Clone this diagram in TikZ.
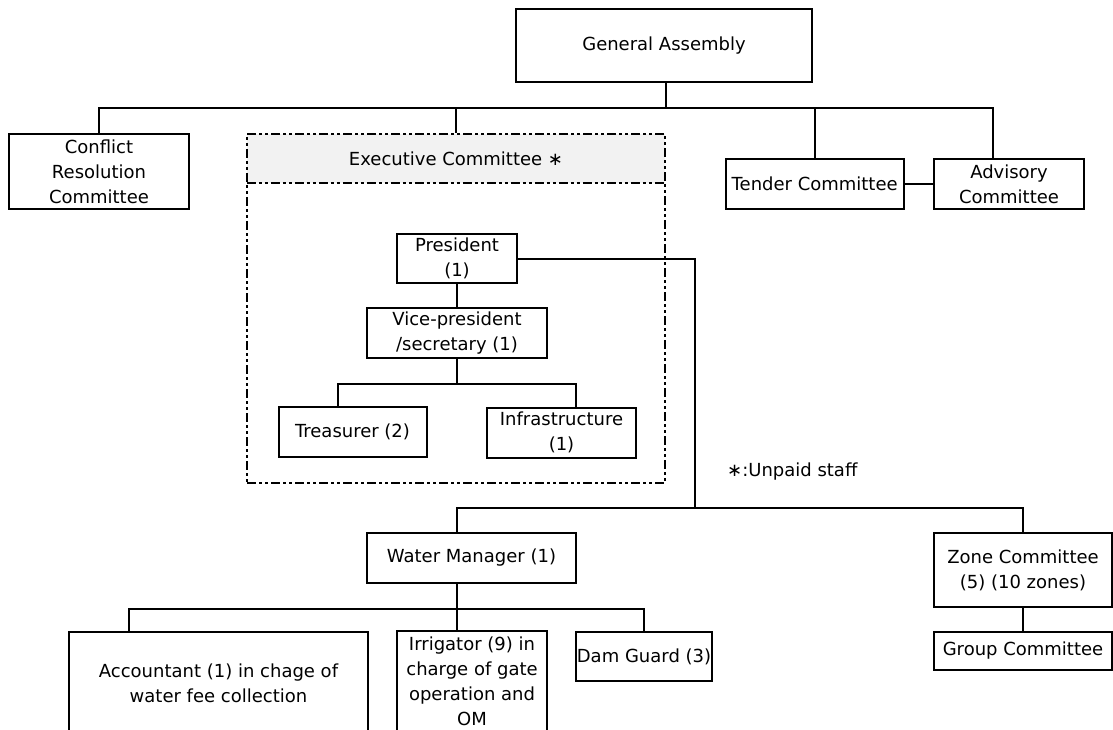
\documentclass[tikz,border=0pt]{standalone}
\usepackage{fontspec}
\setmainfont{DejaVu Sans}
\usepackage{tikz}
\usetikzlibrary{positioning}
\definecolor{headgray}{HTML}{F2F2F2}
\tikzset{
  orgbox/.style = {rectangle, draw=black, line width=2pt, align=center,
    inner sep=0pt, text centered, font=\fontsize{18}{25}\selectfont},
  link/.style = {draw=black, line width=2pt},
  dashbox/.style = {draw=black, line width=2.6pt,
    dash pattern=on 9pt off 3pt on 3pt off 3pt on 3pt off 3pt}
}

\begin{document}
\begin{tikzpicture}[x=1pt, y=-1pt]
\useasboundingbox (0,0) rectangle (1113,730);
\clip (0,0) rectangle (1113,730);

% top level
\node [orgbox, minimum width=296pt, minimum height=73pt] (ga) at (664,45.5) {General Assembly};
\node [orgbox, minimum width=180pt, minimum height=75pt] (conflict) at (99,171.5) {Conflict\\Resolution\\Committee};
\node [orgbox, minimum width=178pt, minimum height=50pt] (tender) at (814.7,184) {Tender Committee};
\node [orgbox, minimum width=150pt, minimum height=50pt] (advisory) at (1009,184) {Advisory\\Committee};

% executive committee
\node [rectangle, fill=headgray, minimum width=418pt, minimum height=49pt, inner sep=0pt,
  font=\fontsize{18}{25}\selectfont] (exechead) at (456,158.5) {Executive Committee ∗};
\node [rectangle, dashbox, minimum width=418pt, minimum height=349pt] (exec) at (456,308.5) {};
\draw [dashbox] (exechead.south west) -- (exechead.south east);

\node [orgbox, minimum width=120pt, minimum height=49pt] (pres) at (457,258.5) {President\\(1)};
\node [orgbox, minimum width=180pt, minimum height=50pt] (vice) at (457,333) {Vice-president\\/secretary (1)};
\node [orgbox, minimum width=148pt, minimum height=50pt] (treas) at (352.5,432) {Treasurer (2)};
\node [orgbox, minimum width=149pt, minimum height=50pt] (infra) at (561.5,432.5) {Infrastructure\\(1)};

\node [anchor=west, inner sep=0pt, font=\fontsize{18}{25}\selectfont] (note) at (727,472) {∗:Unpaid staff};

% staff
\node [orgbox, minimum width=209pt, minimum height=50pt] (wm) at (471.5,558) {Water Manager (1)};
\node [orgbox, minimum width=178pt, minimum height=74pt] (zone) at (1023,570) {Zone Committee\\(5) (10 zones)};
\node [orgbox, minimum width=178pt, minimum height=38pt] (group) at (1023,651) {Group Committee};
\node [orgbox, minimum width=299pt, minimum height=102pt] (acct) at (218.5,683) {Accountant (1) in chage of\\water fee collection};
\node [orgbox, minimum width=150pt, minimum height=100pt] (irrig) at (472,681) {Irrigator (9) in\\charge of gate\\operation and\\OM};
\node [orgbox, minimum width=136pt, minimum height=49pt] (dam) at (644,656.5) {Dam Guard (3)};

% connectors
\coordinate (topbus) at (666,108);
\coordinate (lowbus) at (695,508);
\draw [link] (ga.south -| topbus) -- (topbus);
\draw [link] (conflict.north) |- (topbus);
\draw [link] (exec.north) |- (topbus);
\draw [link] (tender.north) |- (topbus);
\draw [link] ([xshift=-16pt]advisory.north) |- (topbus);
\draw [link] (tender) -- (advisory);

\draw [link] (pres) -- (vice);
\draw [link] (vice.south) -- ++(0,25) coordinate (vbus);
\draw [link] ([xshift=-15pt]treas.north) |- (vbus);
\draw [link] ([xshift=14pt]infra.north) |- (vbus);

\draw [link] (pres.east) -| (lowbus);
\draw [link] ([xshift=-14.5pt]wm.north) |- (lowbus);
\draw [link] (zone.north) |- (lowbus);
\draw [link] (zone) -- (group);

\draw [link] ([xshift=-14.5pt]wm.south) -- ++(0,25) coordinate (wmbus);
\draw [link] ([xshift=-90pt]acct.north) |- (wmbus);
\draw [link] ([xshift=-15pt]irrig.north) -- (wmbus);
\draw [link] (dam.north) |- (wmbus);
\end{tikzpicture}
\end{document}
